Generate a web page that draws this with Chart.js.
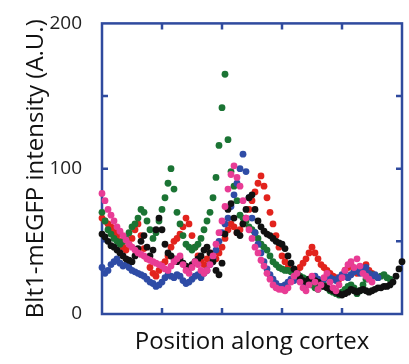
<!DOCTYPE html>
<html>
<head>
<meta charset="utf-8">
<script src="https://cdn.jsdelivr.net/npm/chart.js@4.4.1/dist/chart.umd.min.js"></script>
<style>
  html,body{margin:0;padding:0;background:#fff;}
  #wrap{width:409px;height:364px;position:relative;}
</style>
</head>
<body>
<div id="wrap"><canvas id="ch"></canvas></div>
<script>
// position along cortex (arbitrary units, 0..100)
const positions = [0,1,2,3,4,5,6,7,8,9,10,11,12,13,14,15,16,17,18,19,20,21,22,23,24,25,26,27,28,29,30,31,32,33,34,35,36,37,38,39,40,41,42,43,44,45,46,47,48,49,50,51,52,53,54,55,56,57,58,59,60,61,62,63,64,65,66,67,68,69,70,71,72,73,74,75,76,77,78,79,80,81,82,83,84,85,86,87,88,89,90,91,92,93,94,95,96,97,98,99,100];

const cellBlack = [55,53,50,47,46,44,42,40,38,37,
  36,40,45,50,54,46,40,44,58,66,
  58,48,42,40,38,36,38,35,33,32,
  34,36,38,40,44,46,42,36,30,27,
  35,55,72,76,66,56,54,62,72,80,
  82,72,64,60,57,55,54,52,50,49,
  48,45,40,35,31,28,25,23,22,24,
  25,23,22,20,19,18,17,16,15,14,
  13,14,15,17,16,15,16,17,16,15,
  16,17,18,18,19,19,20,22,26,31,36];

const cellMagenta = [83,78,72,68,64,60,57,54,51,48,
  46,44,42,41,40,38,37,36,35,34,
  33,31,30,33,36,38,40,34,30,28,
  32,36,34,30,28,30,34,40,48,56,
  64,74,86,96,102,94,88,78,66,58,
  52,46,42,37,33,28,24,20,18,17,
  17,16,18,22,26,28,22,18,16,20,
  26,22,17,20,25,28,22,18,16,20,
  25,30,34,36,32,38,33,28,26,24,
  22,null,null,null,null,null,null,null,null,null,null];

const cellBlue = [32,28,30,34,36,38,35,33,34,32,
  30,29,28,27,26,24,22,21,19,20,
  22,25,27,26,25,27,26,23,21,22,
  24,26,27,25,28,30,34,38,44,50,
  56,62,66,74,82,90,100,110,98,80,
  66,56,48,42,36,31,27,24,21,19,
  19,20,22,24,23,25,24,22,20,22,
  24,26,24,22,24,26,25,24,23,25,
  27,26,25,27,29,30,28,30,32,28,
  26,27,25,null,null,null,null,null,null,null,null];

const cellGreen = [70,64,58,55,52,50,48,50,52,56,
  60,62,66,72,70,64,58,52,56,64,
  72,80,90,100,86,70,62,54,48,46,
  44,46,48,52,58,64,70,80,94,116,
  142,165,120,98,88,78,68,66,64,60,
  58,56,52,48,46,44,40,36,34,32,
  31,30,30,29,28,28,26,25,24,22,
  20,18,17,19,20,18,16,15,14,13,
  15,17,19,20,18,14,16,20,24,26,
  27,26,25,26,27,25,24,null,null,null,null];

const cellRed = [66,64,62,60,57,54,50,46,44,48,
  52,58,62,54,45,38,32,28,26,30,
  34,36,40,46,50,52,55,60,66,62,
  54,46,40,36,34,38,42,40,38,42,
  46,52,58,62,60,56,58,62,66,72,
  78,84,90,95,88,80,70,62,54,46,
  40,36,32,30,28,30,32,35,38,42,
  46,42,38,34,32,30,28,26,25,24,
  26,30,32,34,30,28,30,32,34,30,
  28,null,null,null,null,null,null,null,null,null,null];

const yTickLabels = [0,100,200];
const xMinor = [20,40,60,80];
const yMinor = [50,100,150];

const AXIS = '#2f4a9e';
const C = {black:'#111111', magenta:'#e83c95', blue:'#2f4ca6', green:'#1b7434', red:'#e2231d'};

const pts = vals => positions.map((x,i)=>({x, y:vals[i]})).filter(p=>p.y!==null);

const frame = {
  id:'frame',
  beforeDatasetsDraw(chart){
    const {ctx, chartArea:a, scales:{x,y}} = chart;
    ctx.save();
    ctx.strokeStyle = AXIS; ctx.lineWidth = 2.5;
    ctx.strokeRect(a.left, a.top, a.right-a.left, a.bottom-a.top);
    ctx.beginPath();
    xMinor.forEach(v=>{
      const p = x.getPixelForValue(v);
      ctx.moveTo(p,a.bottom); ctx.lineTo(p,a.bottom-6);
      ctx.moveTo(p,a.top); ctx.lineTo(p,a.top+6);
    });
    yMinor.forEach(v=>{
      const p = y.getPixelForValue(v);
      ctx.moveTo(a.left,p); ctx.lineTo(a.left+6,p);
      ctx.moveTo(a.right,p); ctx.lineTo(a.right-6,p);
    });
    ctx.stroke();
    ctx.restore();
  }
};

const ds = (vals,col) => ({
  data: pts(vals), backgroundColor: col, borderWidth: 0,
  pointRadius: 3.4, pointHoverRadius: 3.4, clip: false
});

new Chart(document.getElementById('ch'), {
  type:'scatter',
  data:{ datasets:[
    ds(cellMagenta, C.magenta),
    ds(cellBlack, C.black),
    ds(cellBlue, C.blue),
    ds(cellGreen, C.green),
    ds(cellRed, C.red)
  ]},
  options:{
    responsive:true, maintainAspectRatio:false, animation:false,
    layout:{padding:{top:16, right:7, left:0, bottom:0}},
    plugins:{legend:{display:false}, tooltip:{enabled:false}},
    scales:{
      x:{
        type:'linear', min:0, max:100,
        grid:{display:false}, border:{display:false},
        ticks:{display:false},
        title:{display:true, text:'Position along cortex', color:'#111',
          font:{family:'Open Sans', size:24}, padding:{top:0, bottom:7}},
        afterFit(s){ s.height = 50; }
      },
      y:{
        min:0, max:200,
        grid:{display:false}, border:{display:false},
        ticks:{stepSize:100, padding:12, color:'#222',
          font:{family:'Open Sans', size:19},
          callback:v=>yTickLabels.includes(v)?String(v):''},
        title:{display:true, text:'Blt1-mEGFP intensity (A.U.)', color:'#111',
          font:{family:'Open Sans', size:24}, padding:{top:22, bottom:0}},
        afterFit(s){ s.width = 102; }
      }
    }
  },
  plugins:[frame]
});
</script>
</body>
</html>
